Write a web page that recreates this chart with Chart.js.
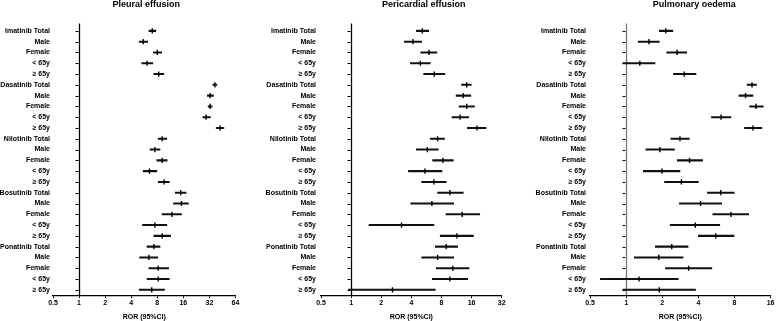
<!DOCTYPE html>
<html lang="en">
<head>
    <meta charset="UTF-8">
    <meta name="viewport" content="width=device-width, initial-scale=1.0">
    <script src="https://cdn.jsdelivr.net/npm/chart.js"></script>
    <title>ROR forest plots</title>
    <style>
        body { margin: 0; background: #fff; }
        .janela { position: relative; width: 776px; height: 321px; }
        .painel { position: absolute; top: 0; height: 321px; }
    </style>
</head>
<body>
<div class="janela">
    <div class="painel" style="left:0px;width:242px"><canvas id="pleural"></canvas></div>
    <div class="painel" style="left:258px;width:250px"><canvas id="pericardial"></canvas></div>
    <div class="painel" style="left:526px;width:250px"><canvas id="pulmonary"></canvas></div>
</div>
<script>
    // row labels (same for the 3 panels)
    const categorias = [
        'Imatinib Total', 'Male', 'Female', '< 65y', '≥ 65y',
        'Dasatinib Total', 'Male', 'Female', '< 65y', '≥ 65y',
        'Nilotinib Total', 'Male', 'Female', '< 65y', '≥ 65y',
        'Bosutinib Total', 'Male', 'Female', '< 65y', '≥ 65y',
        'Ponatinib Total', 'Male', 'Female', '< 65y', '≥ 65y'
    ];

    // Pleural effusion
    const pleuralRor  = [7.0, 5.5, 8.0, 6.1, 8.3, 37, 32.6, 32.6, 29.3, 42.6, 9.1, 7.5, 9.1, 6.5, 9.6, 14.9, 15.2, 11.8, 7.5, 9.1, 7.3, 6.4, 8.2, 8.2, 6.9];
    const pleuralLow  = [6.4, 4.95, 7.2, 5.3, 7.3, 35, 30.3, 30.9, 26.9, 38.3, 8.2, 6.6, 7.9, 5.5, 8.2, 12.9, 12.3, 9.1, 5.4, 7.3, 6.1, 5.0, 6.4, 6.1, 4.95];
    const pleuralHigh = [7.7, 6.2, 9.0, 7.1, 9.5, 39, 35.6, 34.4, 32.8, 47, 10.3, 8.6, 10.4, 7.9, 11.0, 17.2, 18.3, 15.2, 10.3, 11.4, 8.6, 8.1, 10.8, 11.0, 9.7];

    // Pericardial effusion
    const pericardialRor  = [5.15, 4.16, 6.0, 4.92, 6.78, 14.3, 13.2, 14.3, 12.3, 18.1, 7.32, 5.78, 8.27, 5.47, 6.73, 9.7, 6.42, 12.9, 3.19, 11.4, 8.93, 7.32, 10.4, 9.7, 2.59];
    const pericardialLow  = [4.49, 3.41, 4.96, 3.91, 5.31, 12.7, 11.2, 12.0, 10.2, 14.5, 6.19, 4.49, 6.53, 3.74, 5.07, 7.32, 3.95, 8.86, 1.51, 7.78, 6.94, 5.07, 7.09, 6.48, 0.94];
    const pericardialHigh = [5.96, 5.07, 7.2, 6.19, 8.65, 15.9, 15.7, 17.1, 15.0, 22.3, 8.58, 7.43, 10.5, 8.1, 8.93, 13.2, 10.6, 19.3, 6.73, 16.7, 11.6, 10.6, 15.1, 14.6, 6.94];

    // Pulmonary oedema
    const pulmonaryRor  = [2.14, 1.55, 2.66, 1.30, 3.05, 11.2, 9.9, 12.1, 6.19, 11.4, 2.81, 1.91, 3.38, 1.99, 2.89, 6.15, 4.17, 7.47, 3.77, 5.59, 2.40, 1.87, 3.32, 1.28, 1.89];
    const pulmonaryLow  = [1.89, 1.26, 2.18, 0.94, 2.48, 10.2, 8.7, 10.7, 5.14, 9.7, 2.36, 1.46, 2.67, 1.39, 2.09, 4.76, 2.78, 5.28, 2.33, 4.0, 1.75, 1.17, 2.13, 0.61, 0.94];
    const pulmonaryHigh = [2.45, 1.89, 3.2, 1.74, 3.82, 12.2, 11.4, 13.9, 7.47, 13.5, 3.36, 2.53, 4.34, 2.81, 4.0, 7.96, 6.26, 10.5, 6.03, 7.92, 3.28, 2.98, 5.18, 2.72, 3.79];

    // x tick labels
    const ticksPleural = [0.5, 1, 2, 4, 8, 16, 32, 64];
    const ticksPericardial = [0.5, 1, 2, 4, 8, 16, 32];
    const ticksPulmonary = [0.5, 1, 2, 4, 8, 16];

    const fonte = 'Liberation Sans, Arial, sans-serif';

    // vertical line at ROR = 1 with the little ticks of each row
    const linhaUm = {
        id: 'linhaUm',
        beforeDatasetsDraw(chart, args, opts) {
            const ctx = chart.ctx;
            const x = Math.round(chart.scales.x.getPixelForValue(1)) + 0.5;
            const area = chart.chartArea;
            const y = chart.scales.y;
            ctx.save();
            ctx.strokeStyle = opts.cor || '#000';
            ctx.lineWidth = 1.3;
            ctx.beginPath();
            ctx.moveTo(x, area.top - 2);
            ctx.lineTo(x, area.bottom);
            ctx.stroke();
            ctx.strokeStyle = '#000';
            ctx.lineWidth = 1;
            for (let i = 0; i < categorias.length; i++) {
                const py = Math.round(y.getPixelForValue(i)) + 0.5;
                ctx.beginPath();
                ctx.moveTo(x - 4, py);
                ctx.lineTo(x - 1, py);
                ctx.stroke();
            }
            ctx.restore();
        }
    };

    // panel title, a bit off the plot centre as in the original
    const tituloPainel = {
        id: 'tituloPainel',
        afterDraw(chart, args, opts) {
            const ctx = chart.ctx;
            const area = chart.chartArea;
            ctx.save();
            ctx.fillStyle = '#000';
            ctx.font = 'bold 9px ' + fonte;
            ctx.textAlign = 'center';
            ctx.textBaseline = 'middle';
            ctx.fillText(opts.texto, (area.left + area.right) / 2 + opts.desvio, 4.5);
            ctx.restore();
        }
    };

    function plotarPainel(id, titulo, desvio, corLinha, ror, low, high, xTicks, larguraY, padY, padDireita) {
        const barras = low.map((l, i) => [l, high[i]]);
        new Chart(document.getElementById(id), {
            type: 'bar',
            data: {
                labels: categorias,
                datasets: [{
                    data: barras,
                    backgroundColor: '#111',
                    barThickness: 1.4,
                    order: 2
                }, {
                    type: 'line',
                    data: ror,
                    showLine: false,
                    pointStyle: 'line',
                    rotation: 90,
                    pointRadius: 2.6,
                    borderColor: '#000',
                    borderWidth: 1.4,
                    order: 1
                }]
            },
            options: {
                indexAxis: 'y',
                responsive: true,
                maintainAspectRatio: false,
                animation: false,
                layout: { padding: { left: 0, right: padDireita, top: 25.5, bottom: 0 } },
                plugins: {
                    legend: { display: false },
                    tooltip: { enabled: false },
                    title: { display: false },
                    tituloPainel: { texto: titulo, desvio: desvio },
                    linhaUm: { cor: corLinha }
                },
                scales: {
                    x: {
                        type: 'logarithmic',
                        min: xTicks[0],
                        max: xTicks[xTicks.length - 1],
                        afterBuildTicks: (s) => { s.ticks = xTicks.map(v => ({ value: v })); },
                        ticks: {
                            autoSkip: false,
                            maxRotation: 0,
                            padding: 1,
                            color: '#000',
                            font: { family: fonte, size: 7, weight: 'bold' },
                            callback: (v) => String(v)
                        },
                        grid: { drawOnChartArea: false, drawTicks: true, tickLength: 3, color: '#000' },
                        border: { display: true, color: '#000', width: 1.3 },
                        title: {
                            display: true,
                            text: 'ROR (95%CI)',
                            color: '#000',
                            font: { family: fonte, size: 7, weight: 'bold' },
                            padding: { top: 4, bottom: 0 }
                        }
                    },
                    y: {
                        afterFit: (s) => { s.width = larguraY; },
                        grid: { display: false, drawTicks: false, tickLength: 0 },
                        border: { display: false },
                        ticks: {
                            autoSkip: false,
                            padding: padY,
                            color: '#000',
                            font: { family: fonte, size: 7, weight: 'bold' }
                        }
                    }
                }
            },
            plugins: [linhaUm, tituloPainel]
        });
    }

    plotarPainel('pleural', 'Pleural effusion', 2, '#000', pleuralRor, pleuralLow, pleuralHigh, ticksPleural, 53, 3, 6.5);
    plotarPainel('pericardial', 'Pericardial effusion', 12.5, '#000', pericardialRor, pericardialLow, pericardialHigh, ticksPericardial, 63, 5, 6.3);
    plotarPainel('pulmonary', 'Pulmonary oedema', 14, '#777', pulmonaryRor, pulmonaryLow, pulmonaryHigh, ticksPulmonary, 64, 4, 3.7);
</script>
</body>
</html>
